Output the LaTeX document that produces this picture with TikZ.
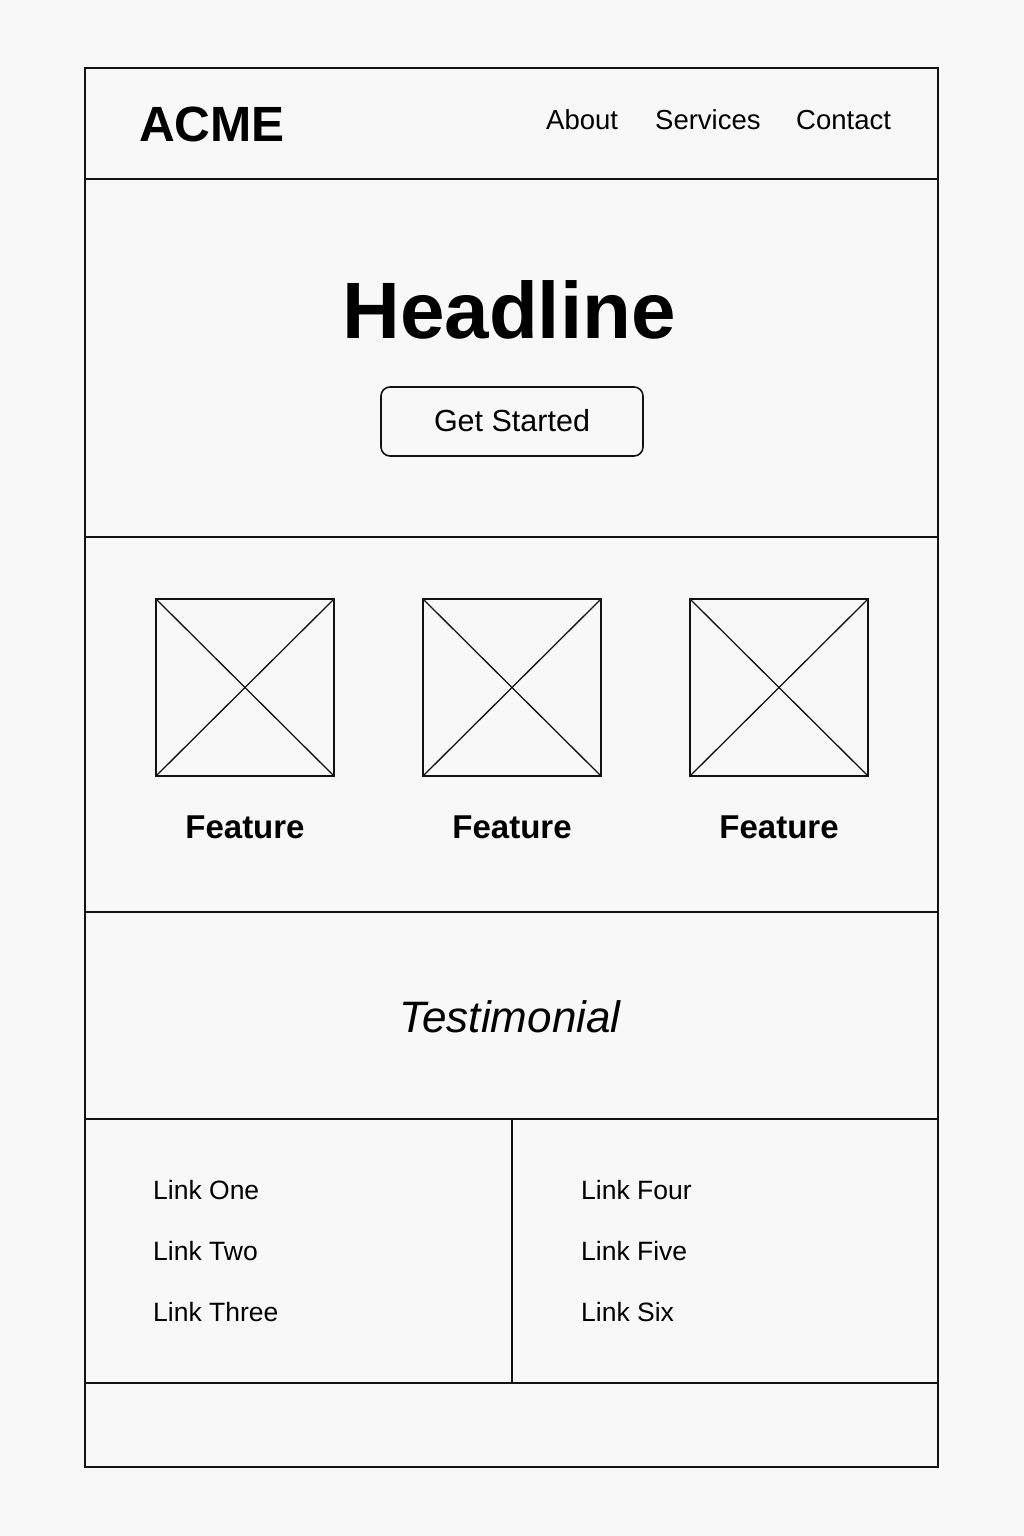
\documentclass[tikz,border=0pt]{standalone}
\usepackage{fontspec}
\setmainfont{Liberation Sans}
\begin{document}
\begin{tikzpicture}[x=1pt,y=-1pt,
  frame/.style={draw=black!93,line width=2pt},
  thin/.style={draw=black!93,line width=1.6pt},
  navlink/.style={anchor=base west,inner sep=0pt,font=\fontsize{27.5}{30}\selectfont},
  flink/.style={anchor=base west,inner sep=0pt,font=\fontsize{26.5}{30}\selectfont},
  featlabel/.style={anchor=base,inner sep=0pt,font=\fontsize{33}{36}\selectfont\bfseries}]
  % page
  \path[fill={rgb,255:red,248;green,248;blue,248}] (0,0) rectangle (1024,1536);
  \useasboundingbox (0,0) rectangle (1024,1536);

  % outer frame and section dividers
  \draw[frame] (85,68) rectangle (938,1467);
  \draw[frame] (85,179) -- (938,179);
  \draw[frame] (85,537) -- (938,537);
  \draw[frame] (85,912) -- (938,912);
  \draw[frame] (85,1119) -- (938,1119);
  \draw[frame] (85,1383) -- (938,1383);
  \draw[frame] (512,1119) -- (512,1383);

  % header
  \node[anchor=base west,inner sep=0pt,font=\fontsize{49.5}{54}\selectfont\bfseries] (logo) at (139,142) {ACME};
  \node[navlink] (about) at (546,130) {About};
  \node[navlink] (services) at (655,130) {Services};
  \node[navlink] (contact) at (796,130) {Contact};

  % hero
  \node[anchor=base,inner sep=0pt,font=\fontsize{80}{88}\selectfont\bfseries] (headline) at (509,338) {Headline};
  \draw[thin,rounded corners=9pt] (381,387) rectangle (643,456);
  \node[anchor=base,inner sep=0pt,font=\fontsize{30.5}{34}\selectfont] (cta) at (512,431) {Get Started};

  % features
  \foreach \cx/\nm in {245/fa,512/fb,779/fc}{
    \draw[thin] (\cx-89,599) rectangle (\cx+89,776);
    \draw[line width=1.3pt,black!93] (\cx-89,599) -- (\cx+89,776);
    \draw[line width=1.3pt,black!93] (\cx+89,599) -- (\cx-89,776);
    \node[featlabel] (\nm) at (\cx,838) {Feature};
  }

  % testimonial
  \node[anchor=base,inner sep=0pt,font=\fontsize{44}{48}\selectfont\itshape] (quote) at (510,1032) {Testimonial};

  % footer links
  \node[flink] (l1) at (153,1199) {Link One};
  \node[flink] (l2) at (153,1260) {Link Two};
  \node[flink] (l3) at (153,1321) {Link Three};
  \node[flink] (l4) at (581,1199) {Link Four};
  \node[flink] (l5) at (581,1260) {Link Five};
  \node[flink] (l6) at (581,1321) {Link Six};
\end{tikzpicture}
\end{document}
